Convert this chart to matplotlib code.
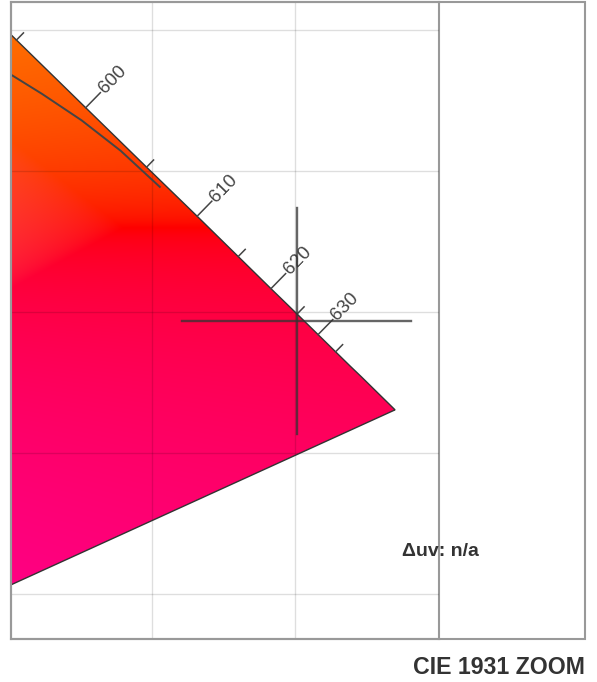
import matplotlib.pyplot as plt
import numpy as np
from matplotlib.patches import Polygon, Rectangle

plt.rcParams['font.family'] = ['Liberation Sans', 'DejaVu Sans']

# --------------------
# CIE 1931 spectral locus (5 nm)
wavelengths = list(range(380, 705, 5))
locus_x = [0.1741, 0.1740, 0.1738, 0.1736, 0.1733, 0.1730, 0.1726, 0.1721, 0.1714, 0.1703,
           0.1689, 0.1669, 0.1644, 0.1611, 0.1566, 0.1510, 0.1440, 0.1355, 0.1241, 0.1096,
           0.0913, 0.0687, 0.0454, 0.0235, 0.0082, 0.0039, 0.0139, 0.0389, 0.0743, 0.1142,
           0.1547, 0.1929, 0.2296, 0.2658, 0.3016, 0.3373, 0.3731, 0.4087, 0.4441, 0.4788,
           0.5125, 0.5448, 0.5752, 0.6029, 0.6270, 0.6482, 0.6658, 0.6801, 0.6915, 0.7006,
           0.7079, 0.7140, 0.7190, 0.7230, 0.7260, 0.7283, 0.7300, 0.7311, 0.7320, 0.7327,
           0.7334, 0.7340, 0.7344, 0.7346, 0.7347]
locus_y = [0.0050, 0.0050, 0.0049, 0.0049, 0.0048, 0.0048, 0.0048, 0.0048, 0.0051, 0.0058,
           0.0069, 0.0086, 0.0109, 0.0138, 0.0177, 0.0227, 0.0297, 0.0399, 0.0578, 0.0868,
           0.1327, 0.2007, 0.2950, 0.4127, 0.5384, 0.6548, 0.7502, 0.8120, 0.8338, 0.8262,
           0.8059, 0.7816, 0.7543, 0.7243, 0.6923, 0.6589, 0.6245, 0.5896, 0.5547, 0.5202,
           0.4866, 0.4544, 0.4242, 0.3965, 0.3725, 0.3514, 0.3340, 0.3197, 0.3083, 0.2993,
           0.2920, 0.2859, 0.2809, 0.2770, 0.2740, 0.2717, 0.2700, 0.2689, 0.2680, 0.2673,
           0.2666, 0.2660, 0.2656, 0.2654, 0.2653]

# Planckian locus (low CCT end)
cct_k = [1000, 1100, 1200, 1300, 1400]
planck_x = [0.6528, 0.6392, 0.6256, 0.6118, 0.5985]
planck_y = [0.3444, 0.3572, 0.3680, 0.3774, 0.3858]

tick_nm = [595, 600, 605, 610, 615, 620, 625, 630, 635]
label_nm = [600, 610, 620, 630]

target_x, target_y = 0.7004, 0.2968
cross_half = 0.04

x_lim = (0.601, 0.75)
y_lim = (0.184, 0.410)
grid_x = [0.65, 0.70]
grid_y = [0.20, 0.25, 0.30, 0.35, 0.40]


def xy_to_srgb(x, y):
    X = x / y
    Z = (1 - x - y) / y
    xyz = np.stack([X, np.ones_like(X), Z], -1)
    M = np.array([[3.2406, -1.5372, -0.4986],
                  [-0.9689, 1.8758, 0.0415],
                  [0.0557, -0.2040, 1.0570]])
    rgb = xyz @ M.T
    # desaturate out-of-gamut colours instead of clipping
    rgb = rgb - np.minimum(rgb.min(axis=-1, keepdims=True), 0)
    rgb = rgb / rgb.max(axis=-1, keepdims=True)
    return np.where(rgb <= 0.0031308, 12.92 * rgb, 1.055 * rgb ** (1 / 2.4) - 0.055)


W, H = 597, 682
fig = plt.figure(figsize=(W / 100, H / 100), dpi=100)
ax = fig.add_axes([11 / W, 1 - 639 / H, 428 / W, 637 / H])
ax.set_xlim(*x_lim)
ax.set_ylim(*y_lim)

# colour fill clipped to the locus
gx, gy = np.meshgrid(np.linspace(*x_lim, 300), np.linspace(*y_lim, 450))
img = xy_to_srgb(gx, gy)
poly = Polygon(np.column_stack([locus_x, locus_y]), closed=True, facecolor='none',
               edgecolor='#333333', lw=1.0, zorder=3)
ax.add_patch(poly)
im = ax.imshow(img, extent=[*x_lim, *y_lim], origin='lower', aspect='auto',
               interpolation='bilinear', zorder=1)
im.set_clip_path(poly)

# grid
ax.set_xticks(grid_x)
ax.set_yticks(grid_y)
ax.tick_params(length=0, labelbottom=False, labelleft=False)
ax.grid(True, color='black', alpha=0.13, lw=1.0, zorder=2)
ax.set_axisbelow(False)
for s in ax.spines.values():
    s.set_color('#999999')
    s.set_linewidth(1.5)

# planckian locus
ax.plot(planck_x, planck_y, color='#444444', lw=1.4, zorder=4)

# wavelength ticks
ax.figure.canvas.draw()
tr = ax.transData
inv = tr.inverted()
pts = dict(zip(wavelengths, zip(locus_x, locus_y)))
for nm in tick_nm:
    p = tr.transform(pts[nm])
    t = tr.transform(pts[nm + 5]) - tr.transform(pts[nm - 5])
    t = t / np.hypot(*t)
    n = np.array([-t[1], t[0]])
    if n[0] + n[1] < 0:
        n = -n
    L = 21 if nm in label_nm else 10
    seg = inv.transform([p, p + n * L])
    ax.plot(seg[:, 0], seg[:, 1], color='#444444', lw=1.1, zorder=4, clip_on=False)
    if nm in label_nm:
        lp = inv.transform(p + n * (L + 2))
        ax.text(lp[0], lp[1], str(nm), rotation=np.degrees(np.arctan2(n[1], n[0])),
                rotation_mode='anchor', ha='left', va='center', fontsize=13.5,
                color='#444444', zorder=5)

# target crosshair
ax.plot([target_x - cross_half, target_x + cross_half], [target_y, target_y],
        color='#333333', alpha=0.75, lw=1.7, zorder=6, clip_on=False)
ax.plot([target_x, target_x], [target_y - cross_half, target_y + cross_half],
        color='#333333', alpha=0.75, lw=1.7, zorder=6, clip_on=False)

# outer frame and labels
fig.patches.append(Rectangle((11 / W, 1 - 639 / H), 574 / W, 637 / H, fill=False,
                             edgecolor='#999999', lw=1.5, transform=fig.transFigure))
fig.text(402 / W, 1 - 551 / H, 'Δuv: n/a', ha='left', va='center', fontsize=14,
         fontweight='bold', color='#333333')
fig.text(585 / W, 1 - 668 / H, 'CIE 1931 ZOOM', ha='right', va='center', fontsize=16.7,
         fontweight='bold', color='#333333')

plt.savefig('out.png', dpi=100)
